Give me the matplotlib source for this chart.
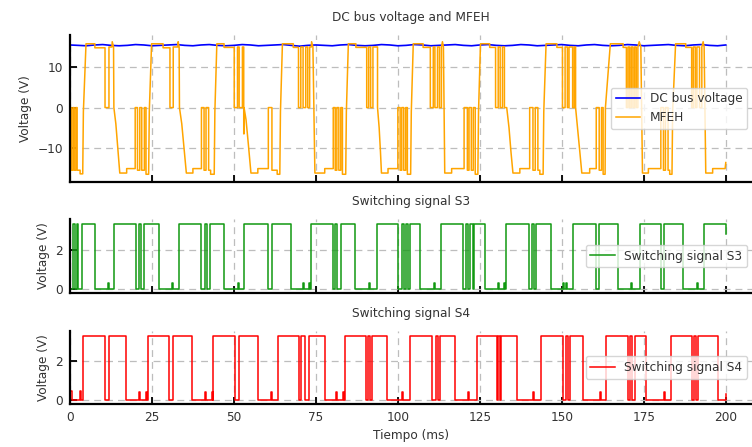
import numpy as np
import matplotlib
matplotlib.use("Agg")
import matplotlib.pyplot as plt

# DC bus voltage, sampled every 2.5 ms (V)
dc_bus = [15.5, 15.4, 15.3, 15.5, 15.6, 15.4, 15.3, 15.4, 15.6, 15.5, 15.3, 15.4,
          15.5, 15.6, 15.4, 15.3, 15.5, 15.6, 15.4, 15.3, 15.4, 15.6, 15.5, 15.3,
          15.4, 15.5, 15.6, 15.4, 15.2, 15.4, 15.5, 15.4, 15.3, 15.5, 15.6, 15.4,
          15.3, 15.4, 15.6, 15.5, 15.3, 15.4, 15.6, 15.5, 15.3, 15.4, 15.5, 15.6,
          15.4, 15.3, 15.5, 15.6, 15.4, 15.3, 15.4, 15.6, 15.5, 15.3, 15.4, 15.5,
          15.6, 15.4, 15.3, 15.5, 15.6, 15.4, 15.3, 15.4, 15.6, 15.5, 15.3, 15.4,
          15.5, 15.6, 15.4, 15.3, 15.5, 15.6, 15.4, 15.3, 15.5]

# MFEH output voltage: (time ms, volts) vertices
mfeh_pts = [
    (0, 0), (0.4, 0), (0.4, -15.5), (0.9, -15.5), (0.9, 0), (1.3, 0), (1.3, -15.5),
    (1.8, -15.5), (1.8, 0), (2.2, 0), (2.2, -15.5), (3.1, -15.5), (3.1, -16.4),
    (3.9, -16.4), (4.1, -1), (4.9, 15.8),
    (7.6, 15.8), (7.6, 14.8), (10.7, 14.8), (10.7, 0), (11.9, 0), (11.9, 15.0),
    (12.8, 15.0), (12.9, 16.3), (13.3, 15.0), (13.4, 0), (14.0, -4), (14.6, -10), (15.2, -16.2),
    (17.3, -16.2), (17.3, -15.1), (19.9, -15.1), (19.9, 0), (20.6, 0), (20.6, -15.5),
    (21.3, -15.5), (21.3, 0), (21.9, 0), (21.9, -15.5), (22.7, -15.5), (22.7, 0),
    (23.2, 0), (23.2, -16.5), (24.0, -16.5), (24.2, -1), (24.9, 15.8),
    (28.4, 15.8), (28.4, 14.8), (30.5, 14.8), (30.5, 0), (31.5, 0), (31.5, 15.0),
    (32.9, 15.0), (33.0, 16.3), (33.3, 15.0), (33.4, 0), (34.1, -4), (34.8, -10), (35.5, -16.2),
    (37.5, -16.2), (37.5, -15.1), (40.1, -15.1), (40.1, 0), (40.9, 0), (40.9, -15.5),
    (41.5, -15.5), (41.5, 0), (42.3, 0), (42.3, -15.5), (42.9, -15.5), (42.9, -16.5),
    (44.0, -16.5), (44.2, -1), (44.8, 15.8),
    (47.0, 15.8), (47.0, 14.9), (50.1, 14.9), (50.1, 0), (51.1, 0), (51.1, 15.0),
    (51.6, 15.0), (51.6, 0), (52.6, 0), (52.6, 15.0), (53.0, 15.0), (53.0, -6.5),
    (53.1, -6.5), (53.1, 0), (53.7, -3), (54.4, -9), (55.2, -16.2),
    (57.3, -16.2), (57.3, -15.1), (60.5, -15.1), (60.5, 0), (61.6, 0), (61.6, -15.5),
    (63.2, -15.5), (63.2, -16.5), (64.0, -16.5), (64.2, -1), (64.8, 15.8),
    (68.1, 15.8), (68.1, 14.9), (69.7, 14.9), (69.7, 0), (70.4, 0), (70.4, 15.0),
    (71.1, 15.0), (71.1, 0), (71.9, 0), (71.9, 15.0), (72.5, 15.0), (72.5, 0),
    (73.1, 0), (73.1, 15.0), (73.6, 15.0), (73.7, 16.3), (74.1, 15.0), (74.7, -16.2),
    (77.7, -16.2), (77.7, -15.1), (80.3, -15.1), (80.3, 0), (80.9, 0), (80.9, -15.5),
    (81.4, -15.5), (81.4, 0), (82.0, 0), (82.0, -15.5), (82.6, -15.5), (82.6, 0),
    (83.1, 0), (83.1, -16.5), (84.1, -16.5), (84.3, -1), (84.9, 15.8),
    (87.2, 15.8), (87.2, 14.9), (90.5, 14.9), (90.5, 0), (91.1, 0), (91.1, 15.0),
    (91.7, 15.0), (91.7, 0), (92.4, 0), (92.4, 15.0), (93.8, 15.0), (93.8, 0),
    (94.3, -5), (94.7, -11), (95.0, -16.2),
    (97.0, -16.2), (97.0, -15.1), (100.0, -15.1), (100.0, 0), (100.7, 0), (100.7, -15.5),
    (101.2, -15.5), (101.2, 0), (101.8, 0), (101.8, -15.5), (102.4, -15.5), (102.4, 0),
    (102.9, 0), (102.9, -16.5), (103.9, -16.5), (104.1, -1), (104.7, 15.8),
    (107.7, 15.8), (107.7, 14.9), (109.9, 14.9), (109.9, 0), (110.8, 0), (110.8, 15.0),
    (111.3, 15.0), (111.3, 0), (112.1, 0), (112.1, 15.0), (112.7, 15.0), (112.7, 0),
    (113.3, 0), (113.3, 15.0), (113.6, 16.3), (113.9, 15.0), (114.3, -16.2),
    (116.4, -16.2), (116.4, -15.1), (120.2, -15.1), (120.2, 0), (121.2, 0), (121.2, -15.5),
    (121.7, -15.5), (121.7, 0), (122.4, 0), (122.4, -15.5), (123.0, -15.5), (123.0, 0),
    (123.6, 0), (123.6, -16.5), (124.4, -16.5), (124.6, -1), (125.2, 15.8),
    (128.0, 15.8), (128.0, 14.9), (129.8, 14.9), (129.8, 0), (130.6, 0), (130.6, 15.0),
    (131.2, 15.0), (131.2, 0), (131.9, 0), (131.9, 15.0), (132.5, 15.0), (132.5, 0),
    (133.2, 0), (133.9, -5), (134.5, -11), (135.1, -16.2),
    (137.2, -16.2), (137.2, -15.1), (140.2, -15.1), (140.2, 0), (141.2, 0), (141.2, -15.5),
    (141.9, -15.5), (141.9, 0), (142.7, 0), (142.7, -15.5), (143.3, -15.5), (143.3, -16.5),
    (144.3, -16.5), (144.5, -1), (145.2, 15.8),
    (148.5, 15.8), (148.5, 14.9), (150.2, 14.9), (150.2, 0), (151.0, 0), (151.0, 15.0),
    (151.7, 15.0), (151.7, 0), (152.2, 0), (152.2, 15.0), (153.3, 15.0), (153.3, 0),
    (153.8, 0), (153.8, 15.0), (154.2, 15.0), (154.2, 0), (154.8, -5), (155.5, -11), (156.1, -16.2),
    (158.5, -16.2), (158.5, -15.1), (160.5, -15.1), (160.5, 0), (161.4, 0), (161.4, -15.5),
    (162.1, -15.5), (162.1, 0), (162.6, 0), (162.6, -16.5), (163.2, -16.5), (163.3, 0), (164.8, 15.8),
    (168.7, 15.8), (168.7, 14.9), (169.7, 14.9), (169.7, 0), (170.2, 0), (170.2, 15.0),
    (170.7, 15.0), (170.7, 0), (171.2, 0), (171.2, 15.0), (171.7, 15.0), (171.7, 0),
    (172.2, 0), (172.2, 15.0), (172.7, 15.0), (172.7, 0), (173.2, 0), (173.2, 15.0),
    (173.6, 16.3), (174.1, 15.0), (174.6, -16.2),
    (176.4, -16.2), (176.4, -15.1), (180.2, -15.1), (180.2, 0), (181.0, 0), (181.0, -15.5),
    (181.6, -15.5), (181.6, 0), (182.4, 0), (182.4, -15.5), (182.9, -15.5), (182.9, -16.5),
    (183.6, -16.5), (183.8, -1), (184.7, 15.8),
    (187.8, 15.8), (187.8, 14.9), (189.6, 14.9), (189.6, 0), (190.1, 0), (190.1, 15.0),
    (190.7, 15.0), (190.7, 0), (191.2, 0), (191.2, 15.0), (192.0, 15.0), (192.0, 0),
    (192.7, 0), (192.7, 15.0), (193.1, 16.3), (193.4, 15.0), (193.9, -16.2),
    (196.0, -16.2), (196.0, -15.1), (199.8, -15.1), (200.0, -13.6),
]

# switching signal S3: (edge time ms, level V after the edge)
s3_edges = [
    (0.0, 0), (1.0, 3.3), (1.5, 0), (2.1, 3.3), (2.6, 0), (3.7, 3.3), (7.5, 0),
    (11.6, 0.3), (11.9, 0), (13.3, 3.3), (20.1, 0), (21.0, 3.3), (21.7, 0), (22.6, 3.3),
    (27.2, 0), (31.2, 0.3), (31.5, 0), (33.3, 3.3), (40.1, 0), (41.1, 3.3), (41.7, 0),
    (42.6, 3.3), (46.9, 0), (51.2, 0.3), (51.5, 0), (53.2, 3.3), (60.5, 0), (61.6, 3.3),
    (67.5, 0), (71.1, 0.3), (71.4, 0), (72.9, 0.3), (73.2, 0), (73.6, 3.3), (80.3, 0),
    (80.8, 3.3), (81.4, 0), (82.6, 3.3), (87.0, 0), (91.3, 0.3), (91.6, 0), (93.6, 3.3),
    (100.1, 0), (101.2, 3.3), (101.8, 0), (102.6, 3.3), (103.2, 0), (103.8, 3.3),
    (106.9, 0), (111.0, 0.3), (111.3, 0), (113.3, 3.3), (119.9, 0), (120.8, 3.3),
    (121.4, 0), (122.0, 3.3), (122.8, 0), (123.3, 3.3), (126.5, 0), (130.5, 0.3),
    (130.8, 0), (132.5, 0.3), (132.8, 0), (133.1, 3.3), (140.0, 0), (140.8, 3.3),
    (141.4, 0), (142.2, 3.3), (146.8, 0), (150.3, 0.3), (150.6, 0), (151.3, 0.3),
    (151.6, 0), (153.5, 3.3), (160.4, 0), (161.3, 3.3), (167.2, 0), (171.0, 0.3),
    (171.3, 0), (173.8, 3.3), (180.1, 0), (181.3, 3.3), (187.1, 0), (191.3, 0.3),
    (191.6, 0), (193.5, 3.3), (200.0, 2.8),
]

# switching signal S4: (edge time ms, level V after the edge)
s4_edges = [
    (0.0, 0.45), (0.7, 0), (3.0, 0.45), (3.5, 0), (3.9, 3.3), (10.7, 0), (12.0, 3.3),
    (17.0, 0), (21.1, 0.4), (21.4, 0), (23.3, 0.4), (23.6, 0), (23.9, 3.3), (30.3, 0),
    (31.5, 3.3), (37.1, 0), (41.1, 0.4), (41.4, 0), (43.2, 0.4), (43.5, 0), (43.7, 3.3),
    (50.3, 0), (51.6, 3.3), (57.4, 0), (61.4, 0.4), (61.7, 0), (63.5, 3.3), (69.9, 0),
    (70.6, 3.3), (71.6, 0), (73.0, 3.3), (77.7, 0), (81.0, 0.4), (81.3, 0), (83.2, 0.4),
    (83.5, 0), (83.8, 3.3), (90.4, 0), (91.0, 3.3), (91.6, 0), (92.1, 3.3), (96.7, 0),
    (101.3, 0.4), (101.6, 0), (103.7, 3.3), (110.3, 0), (111.5, 3.3), (112.3, 0),
    (113.0, 3.3), (117.4, 0), (121.3, 0.4), (121.6, 0), (124.0, 3.3), (130.1, 0),
    (130.6, 3.3), (131.1, 0), (131.6, 3.3), (136.2, 0), (141.2, 0.4), (141.5, 0),
    (143.8, 3.3), (150.4, 0), (151.4, 3.3), (151.9, 0), (152.4, 3.3), (156.5, 0),
    (161.5, 0.4), (161.8, 0), (163.6, 3.3), (170.2, 0), (170.9, 3.3), (171.5, 0),
    (172.2, 3.3), (175.6, 0), (181.1, 0.4), (181.4, 0), (183.2, 3.3), (189.8, 0),
    (190.4, 3.3), (191.0, 0), (191.6, 3.3), (197.5, 0), (200.0, 0.3),
]

titles = ["DC bus voltage and MFEH", "Switching signal S3", "Switching signal S4"]
xticks = [0, 25, 50, 75, 100, 125, 150, 175, 200]

txt = "#333333"
plt.rcParams["font.size"] = 8.7

fig = plt.figure(figsize=(7.52, 4.47), dpi=100)
ax1 = fig.add_axes([0.093, 0.593, 0.907, 0.329])
ax2 = fig.add_axes([0.093, 0.3445, 0.907, 0.1655])
ax3 = fig.add_axes([0.093, 0.0962, 0.907, 0.164])
axs = [ax1, ax2, ax3]

# data
t_dc = np.linspace(0, 200, len(dc_bus))
ax1.plot(t_dc, dc_bus, color="blue", lw=1.2, label="DC bus voltage")
mt, mv = zip(*mfeh_pts)
ax1.plot(mt, mv, color="orange", lw=1.1, label="MFEH")

for ax, edges, col, lab in [(ax2, s3_edges, "#119911", "Switching signal S3"),
                            (ax3, s4_edges, "red", "Switching signal S4")]:
    et, ev = zip(*edges)
    et = list(et) + [200.1]
    ev = list(ev) + [ev[-1]]
    ax.plot(et, ev, drawstyle="steps-post", color=col, lw=1.1, label=lab)

for i, ax in enumerate(axs):
    ax.spines["top"].set_visible(False)
    ax.spines["right"].set_visible(False)
    ax.spines["left"].set_linewidth(1.6)
    ax.spines["bottom"].set_linewidth(1.6)
    ax.set_axisbelow(True)
    ax.grid(True, color="#bdbdbd", lw=0.9, dashes=(5.5, 4))
    ax.tick_params(direction="in", length=5, width=1.3, color="black",
                   labelcolor=txt, pad=5)
    ax.set_xlim(0, 208)
    ax.set_xticks(xticks)
    ax.set_title(titles[i], color=txt, pad=10, fontsize=8.7)
    ax.set_ylabel("Voltage (V)", color=txt)
    leg = ax.legend(loc="center right", fontsize=8.7, labelcolor=txt,
                    borderaxespad=0.4)
    if i < 2:
        ax.tick_params(labelbottom=False)

ax1.set_ylim(-18.4, 18.0)
ax1.set_yticks([-10, 0, 10])
for ax in (ax2, ax3):
    ax.set_ylim(-0.2, 3.55)
    ax.set_yticks([0, 2])
ax3.set_xlabel("Tiempo (ms)", color=txt)

fig.savefig("out.png", dpi=100)
